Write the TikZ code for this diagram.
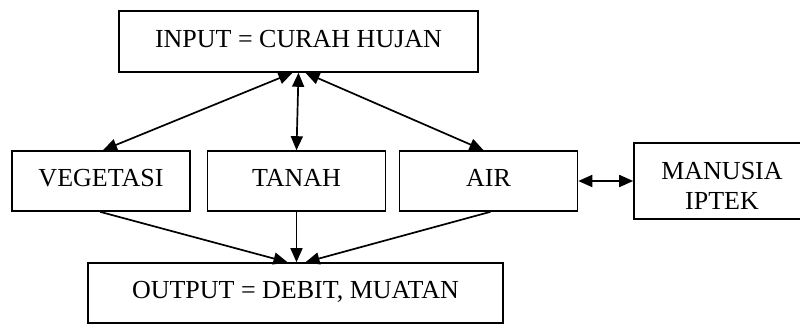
\documentclass[tikz,border=0pt]{standalone}
\usepackage{fontspec}
\setmainfont{Liberation Serif}
\usetikzlibrary{arrows.meta,calc}
\begin{document}
\begin{tikzpicture}[x=1pt,y=-1pt,
  box/.style={draw,line width=1.6pt,inner sep=0pt,
    font=\fontsize{26}{30}\selectfont,text depth=6pt},
  rowbox/.style={box,minimum width=178pt,minimum height=60pt},
  link/.style={line width=1.7pt,-{Triangle[length=14pt,width=12pt]}},
  twoway/.style={line width=1.7pt,
    {Triangle[length=14pt,width=12pt]}-{Triangle[length=14pt,width=12pt]}}]
\useasboundingbox (0,0) rectangle (800,324);
\clip (0,0) rectangle (800,324);

% boxes
\node[box,minimum width=359pt,minimum height=61pt] (in) at (298.5,41.5)
  {INPUT = CURAH HUJAN};
\node[rowbox] (veg) at (101,181) {VEGETASI};
\node[rowbox] (tanah) at (296.5,181) {TANAH};
\node[rowbox] (air) at (488.5,181) {AIR};
\node[box,minimum width=176pt,minimum height=76pt,align=center,
  text depth=0pt,text height=57pt] (man) at (722,181) {MANUSIA\\IPTEK};
\node[box,minimum width=415pt,minimum height=60pt] (out) at (295.5,293)
  {OUTPUT = DEBIT, MUATAN};

% rainfall exchanges with the three components
\draw[twoway] ($(in.south)+(-6,0)$) -- ($(veg.north)+(2,0)$);
\draw[twoway] ($(in.south)+(0,0)$) -- (tanah.north);
\draw[twoway] ($(in.south)+(7,0)$) -- ($(air.north)+(-5,0)$);
\draw[twoway] (air.east) -- (man.west);

% components feeding the output
\draw[link] ($(veg.south)+(-1,0)$) -- ($(out.north)+(-8,0)$);
\draw[link] (tanah.south) -- ($(out.north)+(1,0)$);
\draw[link] ($(air.south)+(2,0)$) -- ($(out.north)+(10,0)$);
\end{tikzpicture}
\end{document}
